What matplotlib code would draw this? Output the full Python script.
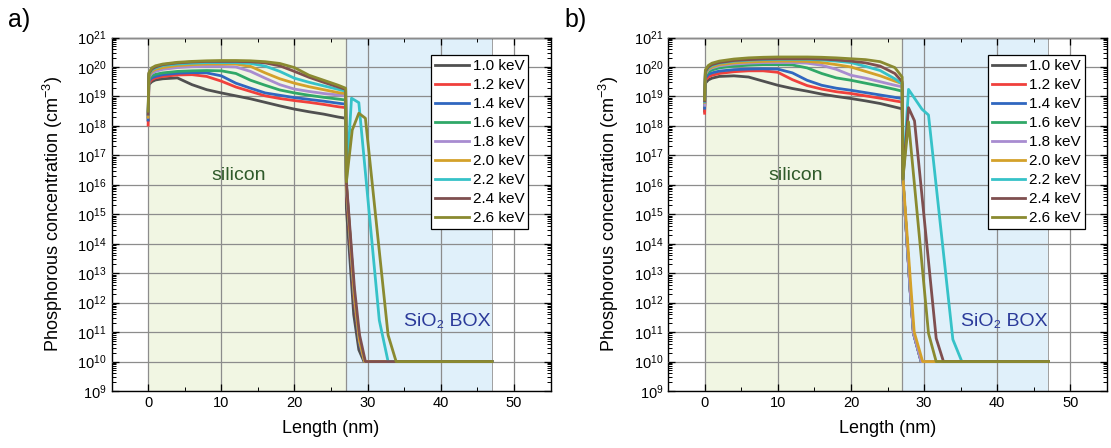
import numpy as np
import matplotlib
matplotlib.use("Agg")
import matplotlib.pyplot as plt
from matplotlib.ticker import MultipleLocator, LogLocator, NullFormatter, FixedLocator

plt.rcParams['font.family'] = ['Liberation Sans', 'DejaVu Sans']
plt.rcParams['mathtext.fontset'] = 'custom'
plt.rcParams['mathtext.rm'] = 'Liberation Sans'
plt.rcParams['mathtext.it'] = 'Liberation Sans:italic'

# ---- data (concentrations as log10 values, cm^-3) ----
energies = ['1.0 keV', '1.2 keV', '1.4 keV', '1.6 keV', '1.8 keV',
            '2.0 keV', '2.2 keV', '2.4 keV', '2.6 keV']
colors = ['#505050', '#f0403c', '#3067c0', '#30a868', '#a88cd0',
          '#d4a12a', '#36c2c8', '#7f4f4f', '#8a8a30']

depth_si = [0, 0.1, 0.5, 1, 2, 4, 6, 8, 10, 12, 14, 16, 18, 20, 22, 24, 26, 27]

# panel a) silicon part
a_si = [
    [18.2, 19.40, 19.50, 19.56, 19.60, 19.63, 19.40, 19.23, 19.12, 19.02, 18.92, 18.80, 18.68, 18.57, 18.48, 18.40, 18.30, 18.26],
    [18.03, 19.45, 19.57, 19.63, 19.68, 19.73, 19.74, 19.68, 19.52, 19.32, 19.17, 19.02, 18.93, 18.86, 18.80, 18.73, 18.65, 18.62],
    [18.2, 19.52, 19.63, 19.68, 19.74, 19.79, 19.81, 19.80, 19.70, 19.45, 19.28, 19.12, 19.04, 18.96, 18.90, 18.84, 18.77, 18.74],
    [18.3, 19.58, 19.70, 19.75, 19.80, 19.85, 19.87, 19.88, 19.87, 19.78, 19.55, 19.38, 19.22, 19.12, 19.04, 18.97, 18.91, 18.88],
    [18.3, 19.65, 19.78, 19.85, 19.92, 19.98, 20.01, 20.02, 20.02, 20.00, 19.85, 19.62, 19.40, 19.25, 19.17, 19.10, 19.05, 19.03],
    [18.3, 19.70, 19.85, 19.92, 19.98, 20.05, 20.08, 20.10, 20.10, 20.10, 20.02, 19.80, 19.60, 19.45, 19.33, 19.23, 19.13, 19.10],
    [18.4, 19.75, 19.90, 19.97, 20.05, 20.10, 20.13, 20.15, 20.15, 20.15, 20.12, 20.03, 19.85, 19.62, 19.48, 19.36, 19.24, 19.18],
    [18.4, 19.78, 19.93, 20.00, 20.08, 20.14, 20.17, 20.19, 20.19, 20.19, 20.18, 20.14, 20.04, 19.85, 19.65, 19.48, 19.32, 19.24],
    [18.5, 19.80, 19.97, 20.04, 20.10, 20.16, 20.19, 20.21, 20.22, 20.22, 20.21, 20.18, 20.12, 19.98, 19.72, 19.55, 19.38, 19.28],
]
# panel a) oxide part
a_tail_x = [
    [27.1, 28.1, 28.8, 29.5, 47],
    [27.1, 28.2, 28.9, 29.6, 47],
    [27.1, 28.2, 28.9, 29.6, 47],
    [27.1, 28.2, 28.9, 29.6, 47],
    [27.1, 28.2, 28.9, 29.6, 47],
    [27.1, 28.2, 28.9, 29.6, 47],
    [27.1, 27.8, 28.8, 31.6, 32.8, 47],
    [27.1, 28.2, 28.9, 29.7, 47],
    [27.1, 27.9, 28.8, 29.7, 32.8, 33.9, 47],
]
a_tail = [
    [15.2, 11.6, 10.4, 10.0, 10.0],
    [15.8, 12.0, 10.6, 10.0, 10.0],
    [15.9, 12.1, 10.6, 10.0, 10.0],
    [16.0, 12.2, 10.7, 10.0, 10.0],
    [16.0, 12.2, 10.7, 10.0, 10.0],
    [16.0, 12.2, 10.7, 10.0, 10.0],
    [16.1, 18.94, 18.79, 11.4, 10.0, 10.0],
    [16.1, 12.5, 10.9, 10.0, 10.0],
    [16.1, 17.86, 18.43, 18.26, 10.9, 10.0, 10.0],
]

# panel b) silicon part
b_si = [
    [18.5, 19.45, 19.56, 19.62, 19.68, 19.70, 19.66, 19.52, 19.38, 19.27, 19.18, 19.08, 19.00, 18.93, 18.85, 18.76, 18.64, 18.58],
    [18.43, 19.55, 19.66, 19.72, 19.78, 19.84, 19.87, 19.87, 19.82, 19.57, 19.37, 19.25, 19.16, 19.10, 19.02, 18.94, 18.85, 18.81],
    [18.6, 19.62, 19.75, 19.80, 19.86, 19.91, 19.93, 19.94, 19.93, 19.80, 19.55, 19.38, 19.28, 19.21, 19.13, 19.05, 18.97, 18.93],
    [18.7, 19.70, 19.83, 19.90, 19.97, 20.03, 20.06, 20.08, 20.08, 20.07, 19.97, 19.78, 19.63, 19.55, 19.45, 19.35, 19.24, 19.18],
    [18.7, 19.75, 19.90, 19.97, 20.04, 20.10, 20.13, 20.15, 20.15, 20.15, 20.13, 20.06, 19.92, 19.72, 19.62, 19.50, 19.38, 19.33],
    [18.8, 19.78, 19.93, 20.00, 20.08, 20.14, 20.17, 20.19, 20.20, 20.20, 20.19, 20.15, 20.08, 20.00, 19.85, 19.70, 19.52, 19.44],
    [18.82, 19.82, 19.97, 20.05, 20.13, 20.20, 20.23, 20.25, 20.26, 20.26, 20.26, 20.24, 20.20, 20.15, 20.02, 19.88, 19.60, 19.42],
    [18.85, 19.85, 20.00, 20.08, 20.15, 20.22, 20.25, 20.27, 20.28, 20.28, 20.28, 20.27, 20.24, 20.20, 20.14, 20.03, 19.78, 19.50],
    [18.9, 19.90, 20.05, 20.13, 20.20, 20.27, 20.31, 20.33, 20.34, 20.34, 20.34, 20.33, 20.31, 20.28, 20.25, 20.18, 19.98, 19.66],
]
# panel b) oxide part
b_tail_x = [
    [27.1, 28.1, 28.55, 29.6, 47],
    [27.1, 28.1, 28.55, 29.6, 47],
    [27.1, 28.1, 28.55, 29.6, 47],
    [27.1, 28.1, 28.55, 29.6, 47],
    [27.1, 28.1, 28.55, 29.6, 47],
    [27.1, 28.2, 28.65, 29.8, 47],
    [27.1, 27.87, 29.7, 30.6, 33.93, 35.16, 47],
    [27.1, 27.87, 28.69, 31.65, 32.65, 47],
    [27.1, 27.87, 30.6, 31.65, 47],
]
b_tail = [
    [16.2, 12.4, 10.96, 10.0, 10.0],
    [16.2, 12.4, 10.96, 10.0, 10.0],
    [16.2, 12.4, 10.96, 10.0, 10.0],
    [16.2, 12.4, 10.96, 10.0, 10.0],
    [16.2, 12.4, 10.96, 10.0, 10.0],
    [16.3, 12.5, 11.0, 10.0, 10.0],
    [16.2, 19.24, 18.57, 18.37, 10.75, 10.0, 10.0],
    [16.2, 18.62, 18.17, 10.79, 10.0, 10.0],
    [16.2, 18.14, 10.96, 10.0, 10.0],
]

si_end = 27
box_end = 47


def draw_panel(ax, si_vals, tail_x, tail_vals):
    ax.axvspan(0, si_end, color='#f1f6e3', lw=0, zorder=0)
    ax.axvspan(si_end, box_end, color='#e0f0fa', lw=0, zorder=0)
    ax.axvline(si_end, color='#909090', lw=0.9, zorder=1)
    ax.axvline(box_end, color='#a0a0a0', lw=0.7, zorder=1)

    for i in range(len(energies)):
        x = np.concatenate([depth_si, tail_x[i]])
        y = 10.0 ** np.concatenate([si_vals[i], tail_vals[i]])
        ax.plot(x, y, color=colors[i], lw=2.0, label=energies[i], zorder=3)

    ax.set_yscale('log')
    ax.set_xlim(-5, 55)
    ax.set_ylim(1e9, 1e21)
    ax.xaxis.set_major_locator(MultipleLocator(10))
    ax.xaxis.set_minor_locator(MultipleLocator(5))
    ax.yaxis.set_major_locator(FixedLocator([10.0 ** k for k in range(9, 22)]))
    ax.yaxis.set_minor_locator(LogLocator(base=10, subs=np.arange(2, 10), numticks=100))
    ax.yaxis.set_minor_formatter(NullFormatter())
    ax.set_yticklabels(['$10^{%d}$' % k for k in range(9, 22)])
    ax.grid(True, which='major', color='#8c8c8c', lw=0.9, zorder=1)
    ax.set_axisbelow(False)
    ax.tick_params(which='both', direction='in', top=True, right=True, labelsize=10.5)
    ax.tick_params(which='major', length=5, width=0.9)
    ax.tick_params(which='minor', length=3, width=0.7)
    for s in ax.spines.values():
        s.set_linewidth(1.0)

    ax.set_xlabel('Length (nm)', fontsize=13, labelpad=7)
    ax.set_ylabel('Phosphorous concentration (cm$^{-3}$)', fontsize=13, labelpad=9)

    ax.text(12.4, 10 ** 16.33, 'silicon', color='#2f5a2a', fontsize=14,
            ha='center', va='center', zorder=4)
    ax.text(40.9, 10 ** 11.35, 'SiO\u2082 BOX', color='#2b3a9a', fontsize=14,
            ha='center', va='center', zorder=4)

    leg = ax.legend(loc='upper right', bbox_to_anchor=(0.949, 0.95), borderaxespad=0,
                    fontsize=11, frameon=True, fancybox=False, framealpha=1,
                    edgecolor='black', handlelength=2.2, handletextpad=0.25,
                    labelspacing=0.33, borderpad=0.25)
    leg.get_frame().set_linewidth(0.9)
    leg.set_zorder(5)


fig = plt.figure(figsize=(11.11, 4.48), dpi=100)
ax_a = fig.add_axes([0.1004, 0.1272, 0.3951, 0.789])
ax_b = fig.add_axes([0.6013, 0.1272, 0.3951, 0.789])

draw_panel(ax_a, a_si, a_tail_x, a_tail)
draw_panel(ax_b, b_si, b_tail_x, b_tail)

fig.text(0.007, 0.955, 'a)', fontsize=18, va='center', ha='left')
fig.text(0.508, 0.955, 'b)', fontsize=18, va='center', ha='left')

fig.savefig('out.png', dpi=100)
